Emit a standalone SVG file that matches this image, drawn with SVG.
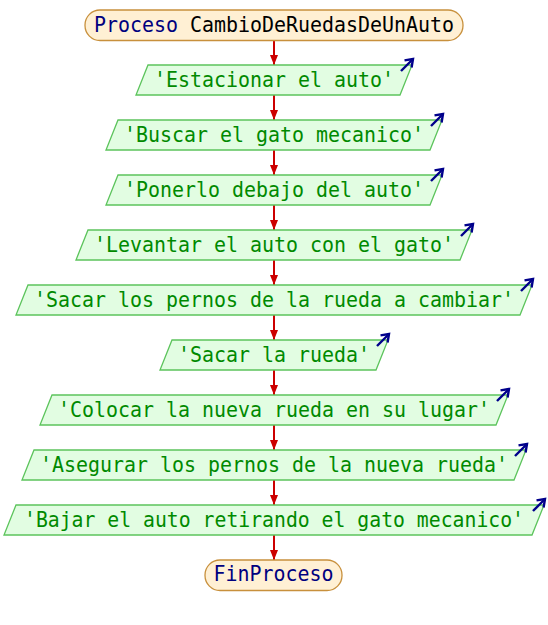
<svg xmlns="http://www.w3.org/2000/svg" width="548" height="625" viewBox="0 0 548 625">
<style>
.term{fill:#fff0d4;stroke:#c8903c;stroke-width:1.3}
.io{fill:#e2fde2;stroke:#5cc45c;stroke-width:1.3}
.t{font-family:"DejaVu Sans Mono","Liberation Mono",monospace;font-size:21px;text-anchor:middle}
.g{fill:#008a00}
.kw{fill:#00007f}
.blk{fill:#000000}
.con{stroke:#cc0000;stroke-width:2;fill:none;marker-end:url(#ra)}
.out{stroke:#00008b;stroke-width:2.4;fill:none;marker-end:url(#ba)}
</style>
<defs>
<marker id="ra" markerUnits="userSpaceOnUse" markerWidth="12" markerHeight="8" refX="10" refY="4" orient="auto">
<path d="M0,0 L10,4 L0,8 Z" fill="#cc0000"/>
</marker>
<marker id="ba" markerUnits="userSpaceOnUse" markerWidth="12" markerHeight="12" refX="9" refY="6" orient="auto">
<path d="M2,1 L9,6 L2,11" fill="none" stroke="#00008b" stroke-width="2.4" stroke-linejoin="miter"/>
</marker>
</defs>
<g id="connectors">
<line class="con" x1="274" y1="41" x2="274" y2="65"/>
<line class="con" x1="274" y1="95" x2="274" y2="120"/>
<line class="con" x1="274" y1="150" x2="274" y2="175"/>
<line class="con" x1="274" y1="205" x2="274" y2="230"/>
<line class="con" x1="274" y1="260" x2="274" y2="285"/>
<line class="con" x1="274" y1="315" x2="274" y2="340"/>
<line class="con" x1="274" y1="370" x2="274" y2="395"/>
<line class="con" x1="274" y1="425" x2="274" y2="450"/>
<line class="con" x1="274" y1="480" x2="274" y2="505"/>
<line class="con" x1="274" y1="535" x2="274" y2="560"/>
</g>
<g id="start">
<rect class="term" x="85" y="10" width="378" height="30.5" rx="15" ry="15"/>
<text class="t" x="274" y="32" textLength="360" lengthAdjust="spacingAndGlyphs"><tspan class="kw">Proceso</tspan><tspan class="blk"> CambioDeRuedasDeUnAuto</tspan></text>
</g>
<g id="n1">
<polygon class="io" points="148,65 412,65 400,95 136,95"/>
<text class="t g" x="274" y="87" textLength="240" lengthAdjust="spacingAndGlyphs">'Estacionar el auto'</text>
<line class="out" x1="401" y1="71" x2="413" y2="59"/>
</g>
<g id="n2">
<polygon class="io" points="118,120 442,120 430,150 106,150"/>
<text class="t g" x="274" y="142" textLength="300" lengthAdjust="spacingAndGlyphs">'Buscar el gato mecanico'</text>
<line class="out" x1="431" y1="126" x2="443" y2="114"/>
</g>
<g id="n3">
<polygon class="io" points="118,175 442,175 430,205 106,205"/>
<text class="t g" x="274" y="197" textLength="300" lengthAdjust="spacingAndGlyphs">'Ponerlo debajo del auto'</text>
<line class="out" x1="431" y1="181" x2="443" y2="169"/>
</g>
<g id="n4">
<polygon class="io" points="88,230 472,230 460,260 76,260"/>
<text class="t g" x="274" y="252" textLength="360" lengthAdjust="spacingAndGlyphs">'Levantar el auto con el gato'</text>
<line class="out" x1="461" y1="236" x2="473" y2="224"/>
</g>
<g id="n5">
<polygon class="io" points="28,285 532,285 520,315 16,315"/>
<text class="t g" x="274" y="307" textLength="480" lengthAdjust="spacingAndGlyphs">'Sacar los pernos de la rueda a cambiar'</text>
<line class="out" x1="521" y1="291" x2="533" y2="279"/>
</g>
<g id="n6">
<polygon class="io" points="172,340 388,340 376,370 160,370"/>
<text class="t g" x="274" y="362" textLength="192" lengthAdjust="spacingAndGlyphs">'Sacar la rueda'</text>
<line class="out" x1="377" y1="346" x2="389" y2="334"/>
</g>
<g id="n7">
<polygon class="io" points="52,395 508,395 496,425 40,425"/>
<text class="t g" x="274" y="417" textLength="432" lengthAdjust="spacingAndGlyphs">'Colocar la nueva rueda en su lugar'</text>
<line class="out" x1="497" y1="401" x2="509" y2="389"/>
</g>
<g id="n8">
<polygon class="io" points="34,450 526,450 514,480 22,480"/>
<text class="t g" x="274" y="472" textLength="468" lengthAdjust="spacingAndGlyphs">'Asegurar los pernos de la nueva rueda'</text>
<line class="out" x1="515" y1="456" x2="527" y2="444"/>
</g>
<g id="n9">
<polygon class="io" points="16,505 544,505 532,535 4,535"/>
<text class="t g" x="274" y="527" font-size="20" textLength="500" lengthAdjust="spacingAndGlyphs">'Bajar el auto retirando el gato mecanico'</text>
<line class="out" x1="533" y1="511" x2="545" y2="499"/>
</g>
<g id="end">
<rect class="term" x="205" y="560" width="137" height="30.5" rx="15" ry="15"/>
<text class="t kw" x="273.5" y="581" textLength="120" lengthAdjust="spacingAndGlyphs">FinProceso</text>
</g>
</svg>
